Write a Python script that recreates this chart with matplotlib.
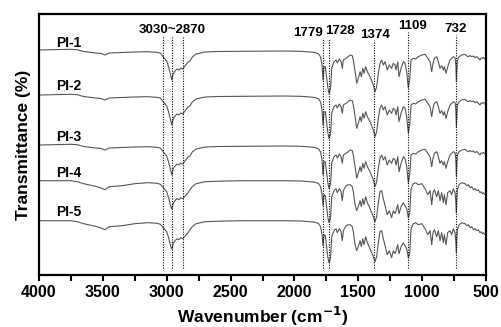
import matplotlib.pyplot as plt
from matplotlib.ticker import MultipleLocator

# FTIR spectra of PI-1 ... PI-5
wavenumber = [4000, 3900, 3800, 3750, 3700, 3650, 3560, 3520, 3483, 3450,
              3350, 3250, 3150, 3080, 3050, 3020, 3000, 2985, 2970, 2960,
              2950, 2935, 2920, 2905, 2890, 2875, 2857, 2833, 2818, 2800,
              2770, 2700, 2600, 2400, 2200, 2090, 1950, 1878, 1840, 1810,
              1795, 1784, 1776, 1768, 1758, 1747, 1738, 1729, 1720, 1715,
              1708, 1690, 1674, 1664, 1648, 1635, 1625, 1617, 1596, 1578,
              1565, 1547, 1539, 1525, 1512, 1500, 1486, 1476, 1465, 1455,
              1442, 1429, 1408, 1382, 1369, 1356, 1343, 1330, 1317, 1304,
              1290, 1273, 1257, 1239, 1226, 1212, 1204, 1191, 1181, 1165,
              1147, 1134, 1121, 1108, 1097, 1087, 1069, 1050, 1030, 1003,
              977, 956, 938, 925, 915, 904, 886, 873, 860, 847,
              834, 826, 813, 800, 782, 769, 756, 742, 736, 732,
              728, 724, 711, 690, 664, 650, 638, 625, 612, 598,
              586, 572, 560, 547, 538, 529, 518, 508, 500]

# relative transmittance, PI-1 .. PI-3 type
shape_a = [0, 0.3, 0.5, 0.7, 0.3, -1.5, -3, -3.3, -5, -3,
           -2.5, -2, -1.7, -2.3, -3, -8, -11, -17, -25, -30,
           -24, -21, -19, -20, -18, -19, -16, -12, -11, -7,
           -4, -2, -1.5, -1.3, -1.2, -1, -1.3, -2, -2.5, -4,
           -7, -15, -30, -16.7, -16.7, -28, -38, -43.5, -40, -35,
           -18, -11.7, -10, -13, -9, -11.7, -18.3, -10, -8.3, -6.7,
           -5, -5.7, -10, -21.7, -33.3, -28.3, -21.7, -26.7, -18.3, -23.3,
           -16.7, -21.7, -26.7, -35, -41.7, -36.7, -23.3, -13.3, -10, -15,
           -11.7, -20, -15, -18.3, -13.3, -15, -20, -11.7, -26.7, -18.3,
           -11.7, -13.3, -21.7, -38.3, -28.3, -10, -8.3, -9, -6.7, -5,
           -4.3, -8.3, -11.7, -21.7, -13.3, -8.3, -6.7, -11.7, -18.3, -15.7,
           -20, -16.7, -23.3, -16.7, -10, -8.3, -6.7, -7.7, -15, -31.7,
           -20, -10, -6.7, -5, -4.3, -6, -6.7, -5.5, -6.7, -6,
           -7.7, -6.5, -8.3, -10, -8, -8.3, -7.5, -9, -8.5]

# relative transmittance, PI-4 / PI-5 type
shape_b = [0, 0, 0, 0, -1, -3, -5.5, -7, -9, -6,
           -5, -3, -2, -2.5, -3.5, -8, -11, -17, -25, -28.5,
           -23, -20, -18, -19, -17, -18, -15.7, -12, -9, -6,
           -3, -1, -0.5, 0, 0, 0, -0.3, -1, -1.5, -3,
           -6, -14, -25, -14, -15, -27, -37, -42, -39, -33,
           -16, -10, -8, -12, -8, -11, -20, -10, -5, -4,
           -4, -6, -11, -24, -30, -26, -20, -26, -18, -24,
           -16, -22, -28, -36, -41, -36, -22, -11, -10, -18,
           -25, -34, -30, -37, -30, -33, -30, -24, -33, -26,
           -22, -25, -28, -37, -32, -8, -3, -2, -4, -3,
           -8, -14, -10, -24, -12, -9, -16, -10, -20, -12,
           -22, -14, -24, -12, -10, -14, -8, -12, -22, -32,
           -18, -9, -4, -2, -3, -5, -4, -7, -6, -9,
           -8, -10, -9, -12, -11, -13, -12, -14, -13]

labels = ["PI-1", "PI-2", "PI-3", "PI-4", "PI-5"]
shapes = [shape_a, shape_a, shape_a, shape_b, shape_b]
levels = [225, 180, 130, 94.3, 54.3]
label_y = [232, 189, 138, 102, 63]

peaks = [3030, 2960, 2870, 1779, 1728, 1374, 1109, 732]
peak_tops = [238, 238, 238, 236, 236, 235, 243, 240]
peak_text = ["3030~2870", "1779", "1728", "1374", "1109", "732"]
peak_text_x = [2958, 1893, 1643, 1369, 1079, 742]
peak_text_y = [245, 242, 244, 240, 249, 246]

FONT = "Liberation Sans"

fig = plt.figure(figsize=(5.01, 3.27), dpi=100)
ax = fig.add_axes([39 / 501, 52 / 327, 447 / 501, 261 / 327])

for name, shape, level, ly in zip(labels, shapes, levels, label_y):
    ax.plot(wavenumber, [level + v for v in shape], color="#555555", lw=0.8)
    ax.text(3765, ly, name, fontsize=10, fontweight="bold",
            family=FONT, ha="center", va="center")

ax.vlines(peaks, 7, peak_tops, colors="black", linestyles=(0, (1, 1.3)), lw=0.8)

for t, x, y in zip(peak_text, peak_text_x, peak_text_y):
    ax.text(x, y, t, fontsize=9.5, fontweight="bold", family=FONT,
            ha="center", va="center")

ax.set_xlim(4000, 500)
ax.set_ylim(0, 261)
ax.xaxis.set_major_locator(MultipleLocator(500))
ax.xaxis.set_minor_locator(MultipleLocator(250))
ax.tick_params(axis="x", which="both", direction="out", length=4, width=1.5)
ax.tick_params(axis="y", left=False, labelleft=False)
for s in ax.spines.values():
    s.set_linewidth(1.6)
for lab in ax.get_xticklabels():
    lab.set_fontweight("bold")
    lab.set_family(FONT)
    lab.set_fontsize(11.5)

ax.set_xlabel("Wavenumber (cm$^{\\mathbf{-1}}$)", fontsize=12.5, fontweight="bold",
              family=FONT, labelpad=3)
ax.set_ylabel("Transmittance (%)", fontsize=12.5, fontweight="bold",
              family=FONT, labelpad=6)

fig.savefig("out.png", dpi=100)
